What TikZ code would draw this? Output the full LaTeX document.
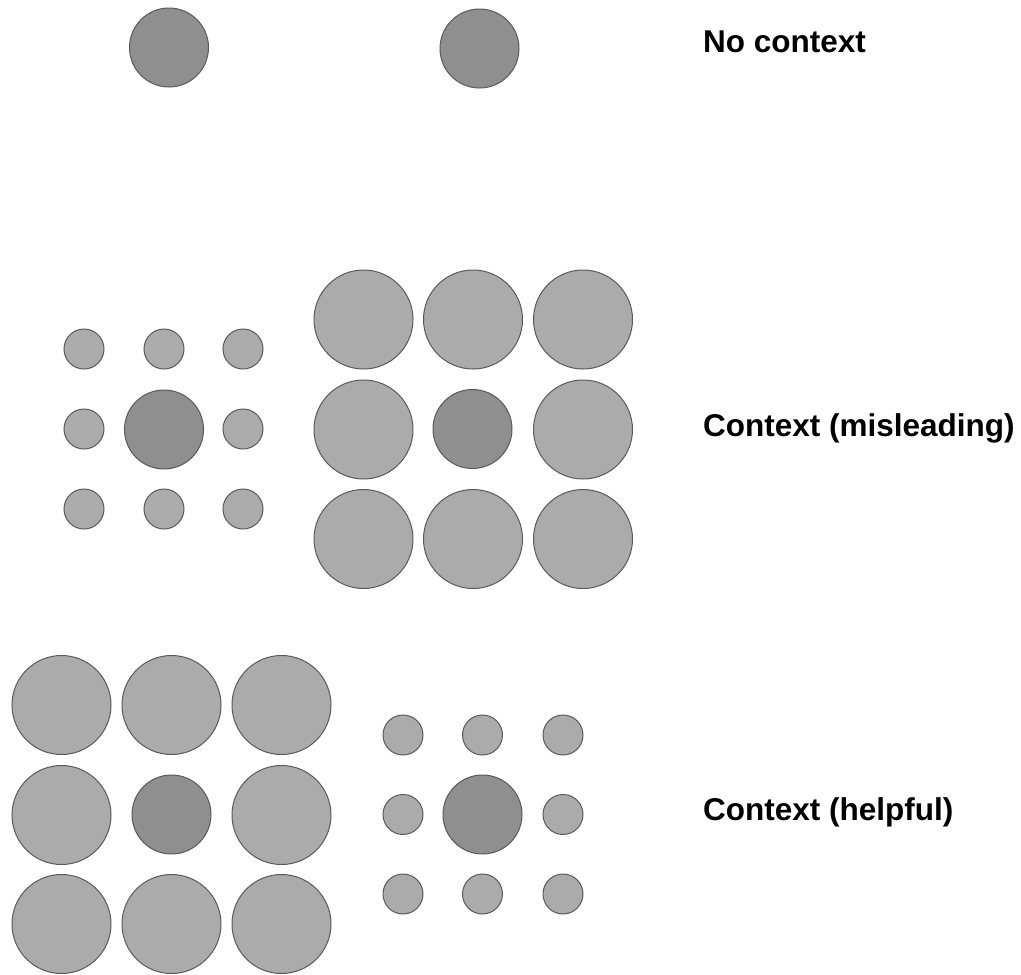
\documentclass[tikz,border=0pt]{standalone}
\usepackage{fontspec}
\setmainfont{Liberation Sans}
\definecolor{lightdisc}{HTML}{ABABAB}
\definecolor{darkdisc}{HTML}{8F8F8F}
\definecolor{discedge}{HTML}{5A5A5A}
\tikzset{
  disc/.style={circle, draw=discedge, line width=1pt, inner sep=0pt, outer sep=0pt},
  smalldisc/.style={disc, fill=lightdisc, minimum size=40pt},
  bigdisc/.style={disc, fill=lightdisc, minimum size=99pt},
  targetdisc/.style={disc, fill=darkdisc, minimum size=79pt},
  lab/.style={anchor=base west, inner sep=0pt, font=\fontsize{31.5pt}{36pt}\selectfont\bfseries}
}
\begin{document}
\begin{tikzpicture}[x=1pt,y=-1pt]
\useasboundingbox (0,0) rectangle (1021,975);
% Row 1: no context
\node[targetdisc] (t1a) at (169,47.5) {};
\node[targetdisc] (t1b) at (479.5,48.5) {};
\node[lab] (l1) at (703,52) {No context};
% Row 2 left: small surround
\foreach \i/\x in {1/84,2/164,3/243}{
  \foreach \j/\y in {1/349,2/429,3/509}{
    \ifnum\i=2 \ifnum\j=2 \else \node[smalldisc] (ms\i\j) at (\x,\y) {}; \fi
    \else \node[smalldisc] (ms\i\j) at (\x,\y) {}; \fi
  }
}
\node[targetdisc] (t2a) at (164,429.5) {};
% Row 2 right: big surround
\foreach \i/\x in {1/363.5,2/473,3/583}{
  \foreach \j/\y in {1/319.5,2/429.5,3/539}{
    \ifnum\i=2 \ifnum\j=2 \else \node[bigdisc] (mb\i\j) at (\x,\y) {}; \fi
    \else \node[bigdisc] (mb\i\j) at (\x,\y) {}; \fi
  }
}
\node[targetdisc] (t2b) at (472.5,429) {};
\node[lab] (l2) at (703,436) {Context (misleading)};
% Row 3 left: big surround
\foreach \i/\x in {1/61.5,2/171.5,3/281.5}{
  \foreach \j/\y in {1/705,2/815,3/924}{
    \ifnum\i=2 \ifnum\j=2 \else \node[bigdisc] (hb\i\j) at (\x,\y) {}; \fi
    \else \node[bigdisc] (hb\i\j) at (\x,\y) {}; \fi
  }
}
\node[targetdisc] (t3a) at (171.5,814.5) {};
% Row 3 right: small surround
\foreach \i/\x in {1/403,2/482.5,3/563}{
  \foreach \j/\y in {1/735,2/814.5,3/894}{
    \ifnum\i=2 \ifnum\j=2 \else \node[smalldisc] (hs\i\j) at (\x,\y) {}; \fi
    \else \node[smalldisc] (hs\i\j) at (\x,\y) {}; \fi
  }
}
\node[targetdisc] (t3b) at (482.5,814.5) {};
\node[lab] (l3) at (703,820) {Context (helpful)};
\end{tikzpicture}
\end{document}
